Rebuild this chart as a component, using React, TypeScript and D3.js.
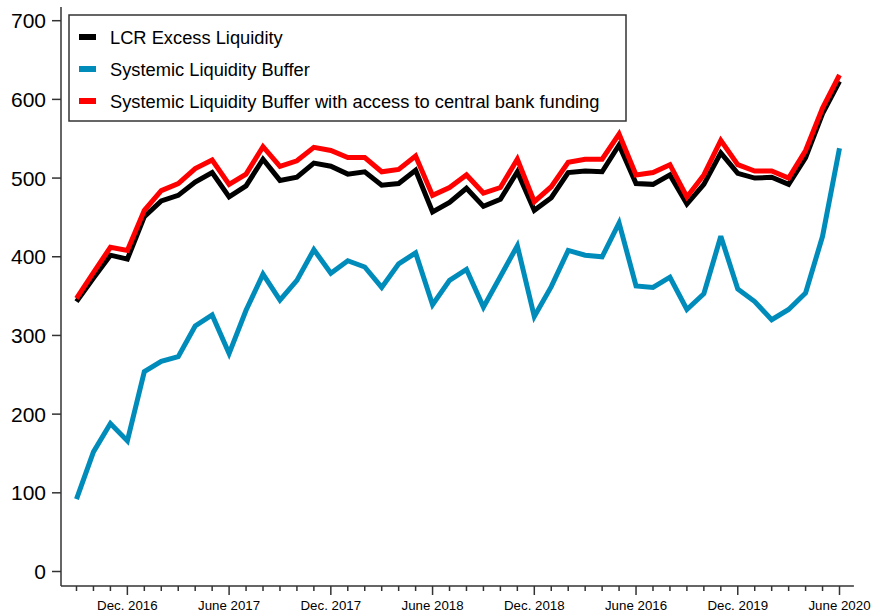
import React from "react";
import * as d3 from "d3";

const seriesNames = [
  "LCR Excess Liquidity",
  "Systemic Liquidity Buffer",
  "Systemic Liquidity Buffer with access to central bank funding",
];
const seriesColors = ["#000000", "#008CBA", "#FF0000"];

// Monthly observations, Sep. 2016 .. June 2020
const lcrExcess = [
  343, 373, 402, 397, 451, 471, 478, 495, 507, 476, 490, 524, 497, 501, 519, 515,
  505, 508, 491, 493, 510, 457, 469, 487, 464, 473, 508, 459, 475, 507, 509, 508,
  542, 493, 492, 504, 467, 492, 532, 506, 500, 501, 492, 526, 582, 623,
];
const slb = [
  92, 152, 188, 166, 254, 267, 273, 312, 326, 277, 332, 378, 345, 370, 409, 379,
  395, 387, 361, 391, 405, 339, 370, 384, 336, 375, 414, 324, 362, 408, 402, 400,
  443, 363, 361, 374, 333, 353, 426, 359, 343, 320, 333, 354, 426, 538,
];
const slbCb = [
  347, 380, 412, 408, 459, 484, 493, 512, 523, 492, 505, 540, 515, 522, 539, 535,
  526, 526, 508, 511, 528, 478, 488, 504, 481, 488, 524, 470, 489, 520, 524, 524,
  556, 504, 507, 517, 476, 504, 548, 517, 509, 509, 500, 535, 589, 631,
];

const majorTickIndex = [3, 9, 15, 21, 27, 33, 39, 45];
const majorTickLabels = [
  "Dec. 2016",
  "June 2017",
  "Dec. 2017",
  "June 2018",
  "Dec. 2018",
  "June 2016",
  "Dec. 2019",
  "June 2020",
];
const yTicks = [0, 100, 200, 300, 400, 500, 600, 700];

const W = 872;
const H = 615;
const FONT = "'Liberation Sans', Arial, Helvetica, sans-serif";

export default function App() {
  const n = lcrExcess.length;
  const x = d3.scaleLinear().domain([0, n - 1]).range([76.5, 839.5]);
  const y = d3.scaleLinear().domain([0, 700]).range([571.5, 20.7]);
  const axisX = 61;
  const axisY = 586;
  const xEnd = x(n - 1 + 0.85);
  const yTop = 7;

  const line = d3
    .line<number>()
    .x((_, i) => x(i))
    .y((d) => y(d));

  const allSeries = [lcrExcess, slb, slbCb];
  const monthIdx = d3.range(n);

  return (
    <svg
      width={W}
      height={H}
      style={{ position: "absolute", left: 0, top: 0, background: "#fff" }}
      fontFamily={FONT}
    >
      <rect x={0} y={0} width={W} height={H} fill="#fff" />
      {/* Y axis */}
      <line x1={axisX} x2={axisX} y1={yTop} y2={axisY} stroke="#333" strokeWidth={1.5} />
      {yTicks.map((t) => (
        <g key={t}>
          <line x1={axisX - 9} x2={axisX} y1={y(t)} y2={y(t)} stroke="#333" strokeWidth={1.5} />
          <text
            x={axisX - 15}
            y={y(t)}
            dy="0.36em"
            textAnchor="end"
            fontSize={21}
            fill="#000"
          >
            {t}
          </text>
        </g>
      ))}
      {/* X axis */}
      <line x1={axisX} x2={xEnd} y1={axisY} y2={axisY} stroke="#333" strokeWidth={1.5} />
      {monthIdx.map((i) => {
        const major = majorTickIndex.includes(i);
        return (
          <line
            key={i}
            x1={x(i)}
            x2={x(i)}
            y1={axisY}
            y2={axisY + (major ? 9 : 5)}
            stroke="#333"
            strokeWidth={1.5}
          />
        );
      })}
      {majorTickIndex.map((i, k) => (
        <text
          key={i}
          x={x(i)}
          y={610}
          textAnchor="middle"
          fontSize={13.3}
          fill="#000"
        >
          {majorTickLabels[k]}
        </text>
      ))}
      {/* Lines */}
      {allSeries.map((s, k) => (
        <path
          key={k}
          d={line(s) || ""}
          fill="none"
          stroke={seriesColors[k]}
          strokeWidth={5}
          strokeLinejoin="miter"
          strokeMiterlimit={3}
        />
      ))}
      {/* Legend */}
      <rect
        x={69}
        y={15}
        width={557}
        height={106}
        fill="#fff"
        stroke="#333"
        strokeWidth={1.5}
      />
      {seriesNames.map((name, k) => {
        const cy = 37 + k * 32;
        return (
          <g key={name}>
            <line x1={79} x2={96} y1={cy} y2={cy} stroke={seriesColors[k]} strokeWidth={6} />
            <text x={110} y={cy} dy="0.36em" fontSize={18.3} fill="#000">
              {name}
            </text>
          </g>
        );
      })}
    </svg>
  );
}
